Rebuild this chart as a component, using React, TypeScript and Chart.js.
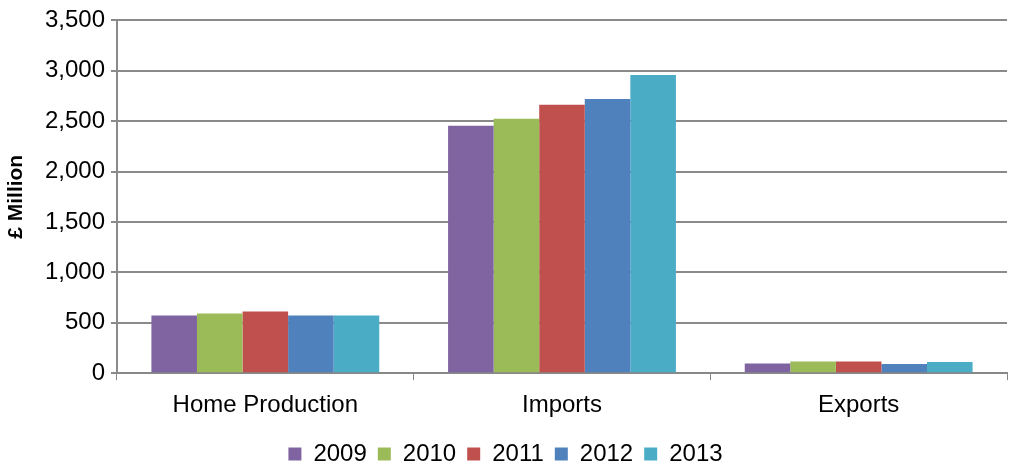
import React, { useEffect, useRef } from "react";
import { Chart, registerables } from "chart.js";

Chart.register(...registerables);

const categories = ["Home Production", "Imports", "Exports"];
const years = ["2009", "2010", "2011", "2012", "2013"];
const v2009 = [572, 2455, 96];
const v2010 = [592, 2524, 115];
const v2011 = [611, 2662, 115];
const v2012 = [572, 2721, 92];
const v2013 = [572, 2958, 111];
const colors = ["#8064A2", "#9BBB59", "#C0504D", "#4F81BD", "#4BACC6"];
const yTicks = [0, 500, 1000, 1500, 2000, 2500, 3000, 3500];

export default function App() {
  const ref = useRef<HTMLCanvasElement>(null);
  useEffect(() => {
    const series = [v2009, v2010, v2011, v2012, v2013];
    const font = "'Liberation Sans', Arial, sans-serif";
    const chart = new Chart(ref.current!, {
      type: "bar",
      data: {
        labels: categories,
        datasets: years.map((y, i) => ({
          label: y,
          data: series[i],
          backgroundColor: colors[i],
          borderWidth: 0,
          categoryPercentage: 0.768,
          barPercentage: 1.0,
        })),
      },
      options: {
        responsive: false,
        animation: false,
        layout: { padding: { top: 10, right: 2, left: 4, bottom: -10 } },
        plugins: {
          tooltip: { enabled: false },
          legend: {
            position: "bottom",
            labels: {
              boxWidth: 13,
              boxHeight: 13,
              padding: 11,
              color: "#000",
              font: { family: font, size: 24 },
            },
          },
        },
        scales: {
          x: {
            grid: {
              offset: true,
              drawOnChartArea: false,
              color: "#888",
              tickLength: 7,
            },
            border: { color: "#888", width: 2 },
            ticks: { color: "#000", font: { family: font, size: 24 }, padding: 11 },
          },
          y: {
            min: 0,
            max: 3500,
            afterBuildTicks: (s: any) => {
              s.ticks = yTicks.map((v) => ({ value: v }));
            },
            afterFit: (s: any) => {
              s.width = 113;
            },
            grid: { color: "#8a8a8a", lineWidth: 2, tickLength: 6 },
            border: { color: "#8a8a8a", width: 2 },
            ticks: {
              color: "#000",
              font: { family: font, size: 24 },
              padding: 6,
              callback: (v: any) => Number(v).toLocaleString("en-US"),
            },
            title: {
              display: true,
              text: "£ Million",
              color: "#000",
              font: { family: font, size: 21, weight: "bold" },
              padding: 0,
            },
          },
        },
      },
    });
    return () => chart.destroy();
  }, []);
  return (
    <div style={{ position: "fixed", left: 0, top: 0, width: 1009, height: 466, background: "#fff" }}>
      <canvas ref={ref} width={1009} height={466} />
    </div>
  );
}
